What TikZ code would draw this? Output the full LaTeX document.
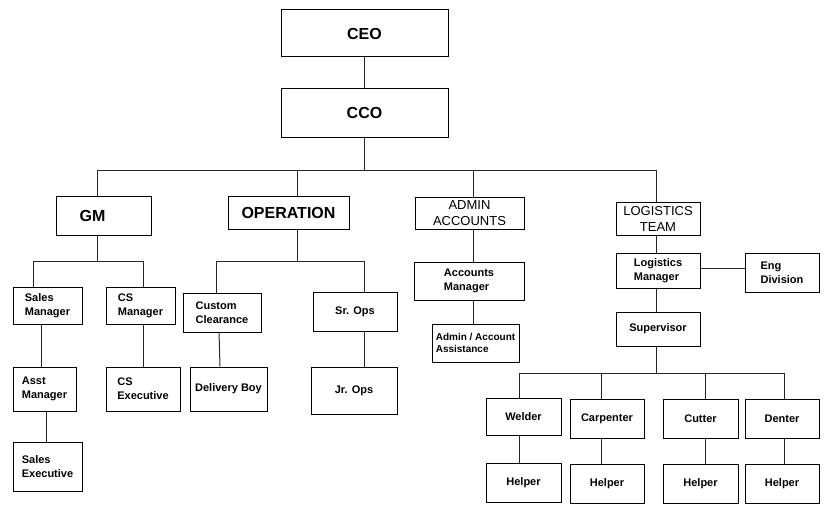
\documentclass[tikz,border=0pt]{standalone}
\usepackage{fontspec}
\setmainfont{Liberation Sans}
\tikzset{
  unit/.style={draw, line width=1pt, inner sep=0pt, align=left,
    font=\bfseries\fontsize{11}{14}\selectfont},
  head/.style={unit, align=center, font=\bfseries\fontsize{16}{19}\selectfont},
  dept/.style={unit, align=center, font=\fontsize{13}{16}\selectfont},
  small/.style={unit, font=\bfseries\fontsize{10}{12}\selectfont},
  sz/.style 2 args={minimum width=#1pt, minimum height=#2pt},
  link/.style={line width=1pt, black!85},
}

\begin{document}
\begin{tikzpicture}[x=1pt, y=-1pt]
\useasboundingbox (0,0) rectangle (828,519);
\fill[white] (0,0) rectangle (828,519);

% top of the chart
\node[head, sz={167}{47}] (ceo) at (364.5,33.5) {CEO};
\node[head, sz={167}{48}] (cco) at (364.5,113) {CCO};

% departments
\node[head, sz={95}{39}] (gm) at (103.5,215.5) {GM\hspace*{22pt}};
\node[head, sz={121}{33}] (op) at (288.5,212.5) {OPERATION};
\node[dept, sz={109}{32}] (admin) at (469.5,213) {ADMIN\\ACCOUNTS};
\node[dept, sz={84}{33}] (logi) at (658,218.5) {LOGISTICS\\TEAM};

% GM branch
\node[unit, sz={69}{37}] (salesmgr) at (47.5,305.5) {Sales\\Manager};
\node[unit, sz={69}{37}] (csmgr) at (140.5,305.5) {CS\\Manager};
\node[unit, sz={63}{44}] (asstmgr) at (44.5,389) {Asst\\Manager};
\node[unit, sz={69}{49}] (salesexec) at (47.5,466.5) {Sales\\Executive};
\node[unit, sz={74}{44}] (csexec) at (143,389) {CS\\Executive};

% operation branch
\node[unit, sz={78}{39}] (custom) at (222,312.5) {Custom\\Clearance};
\node[unit, sz={77}{44}] (delivery) at (228.5,389) {Delivery Boy};
\node[unit, sz={84}{39}] (srops) at (355,311.5) {Sr. Ops};
\node[unit, sz={86}{47}] (jrops) at (354,390.5) {Jr. Ops};

% admin branch
\node[unit, sz={110}{38}] (accmgr) at (469,281) {Accounts\\Manager};
\node[small, sz={87}{38}] (assist) at (475.5,343) {Admin / Account\\Assistance};

% logistics branch
\node[unit, sz={84}{35}] (logmgr) at (658,270.5) {Logistics\\Manager};
\node[unit, sz={74}{39}] (eng) at (782,272.5) {Eng\\Division};
\node[unit, sz={84}{34}] (superv) at (658,329) {Supervisor};
\node[unit, sz={75}{37}] (welder) at (523.5,416.5) {Welder};
\node[unit, sz={74}{39}] (carp) at (607,418.5) {Carpenter};
\node[unit, sz={75}{39}] (cutter) at (700.5,418.5) {Cutter};
\node[unit, sz={74}{39}] (denter) at (782,418.5) {Denter};
\node[unit, sz={75}{39}] (help1) at (523.5,482.5) {Helper};
\node[unit, sz={74}{39}] (help2) at (607,483.5) {Helper};
\node[unit, sz={75}{39}] (help3) at (700.5,483.5) {Helper};
\node[unit, sz={74}{39}] (help4) at (782,483.5) {Helper};

% buses
\coordinate (topl) at (97,170);
\coordinate (topr) at (656,170);
\coordinate (gml) at (33,261);
\coordinate (gmr) at (143,261);
\coordinate (opl) at (216,261);
\coordinate (opr) at (364,261);
\coordinate (sul) at (519,373);
\coordinate (sur) at (784,373);

\draw[link] (ceo) -- (cco);
\draw[link] (cco.south) -- (cco.south |- topl);
\draw[link] (topl) -- (topr);
\draw[link] (topl) -- (topl |- gm.north);
\draw[link] ([xshift=8.5pt]op.north) -- ([xshift=8.5pt]op.north |- topl);
\draw[link] ([xshift=3.5pt]admin.north) -- ([xshift=3.5pt]admin.north |- topl);
\draw[link] (topr) -- (topr |- logi.north);

\draw[link] ([xshift=-6.5pt]gm.south) -- ([xshift=-6.5pt]gm.south |- gml);
\draw[link] (gml) -- (gmr);
\draw[link] (gml) -- (gml |- salesmgr.north);
\draw[link] (gmr) -- (gmr |- csmgr.north);
\draw[link] ([xshift=-6.5pt]salesmgr.south) -- ([xshift=-6.5pt]salesmgr.south |- asstmgr.north);
\draw[link] ([xshift=1.5pt]asstmgr.south) -- ([xshift=1.5pt]asstmgr.south |- salesexec.north);
\draw[link] ([xshift=2.5pt]csmgr.south) -- ([xshift=2.5pt]csmgr.south |- csexec.north);

\draw[link] ([xshift=8.5pt]op.south) -- ([xshift=8.5pt]op.south |- opl);
\draw[link] (opl) -- (opr);
\draw[link] (opl) -- (opl |- custom.north);
\draw[link] (opr) -- (opr |- srops.north);
\draw[link] ([xshift=-3pt]custom.south) -- ([xshift=-8.5pt]delivery.north);
\draw[link] ([xshift=9pt]srops.south) -- ([xshift=9pt]srops.south |- jrops.north);

\draw[link] ([xshift=3.5pt]admin.south) -- ([xshift=3.5pt]admin.south |- accmgr.north);
\draw[link] ([xshift=4pt]accmgr.south) -- ([xshift=4pt]accmgr.south |- assist.north);

\draw[link] ([xshift=-2pt]logi.south) -- ([xshift=-2pt]logi.south |- logmgr.north);
\draw[link] ([yshift=2.5pt]logmgr.east) -- ([yshift=2.5pt]logmgr.east -| eng.west);
\draw[link] ([xshift=-2pt]logmgr.south) -- ([xshift=-2pt]logmgr.south |- superv.north);
\draw[link] ([xshift=-2pt]superv.south) -- ([xshift=-2pt]superv.south |- sul);
\draw[link] (sul) -- (sur);
\draw[link] (sul) -- (sul |- welder.north);
\draw[link] ([xshift=-6pt]carp.north) -- ([xshift=-6pt]carp.north |- sul);
\draw[link] ([xshift=4.5pt]cutter.north) -- ([xshift=4.5pt]cutter.north |- sul);
\draw[link] (sur) -- (sur |- denter.north);

\draw[link] ([xshift=-4.5pt]welder.south) -- ([xshift=-4.5pt]help1.north);
\draw[link] ([xshift=-6pt]carp.south) -- ([xshift=-6pt]help2.north);
\draw[link] ([xshift=4.5pt]cutter.south) -- ([xshift=4.5pt]help3.north);
\draw[link] ([xshift=2pt]denter.south) -- ([xshift=2pt]help4.north);
\end{tikzpicture}
\end{document}
